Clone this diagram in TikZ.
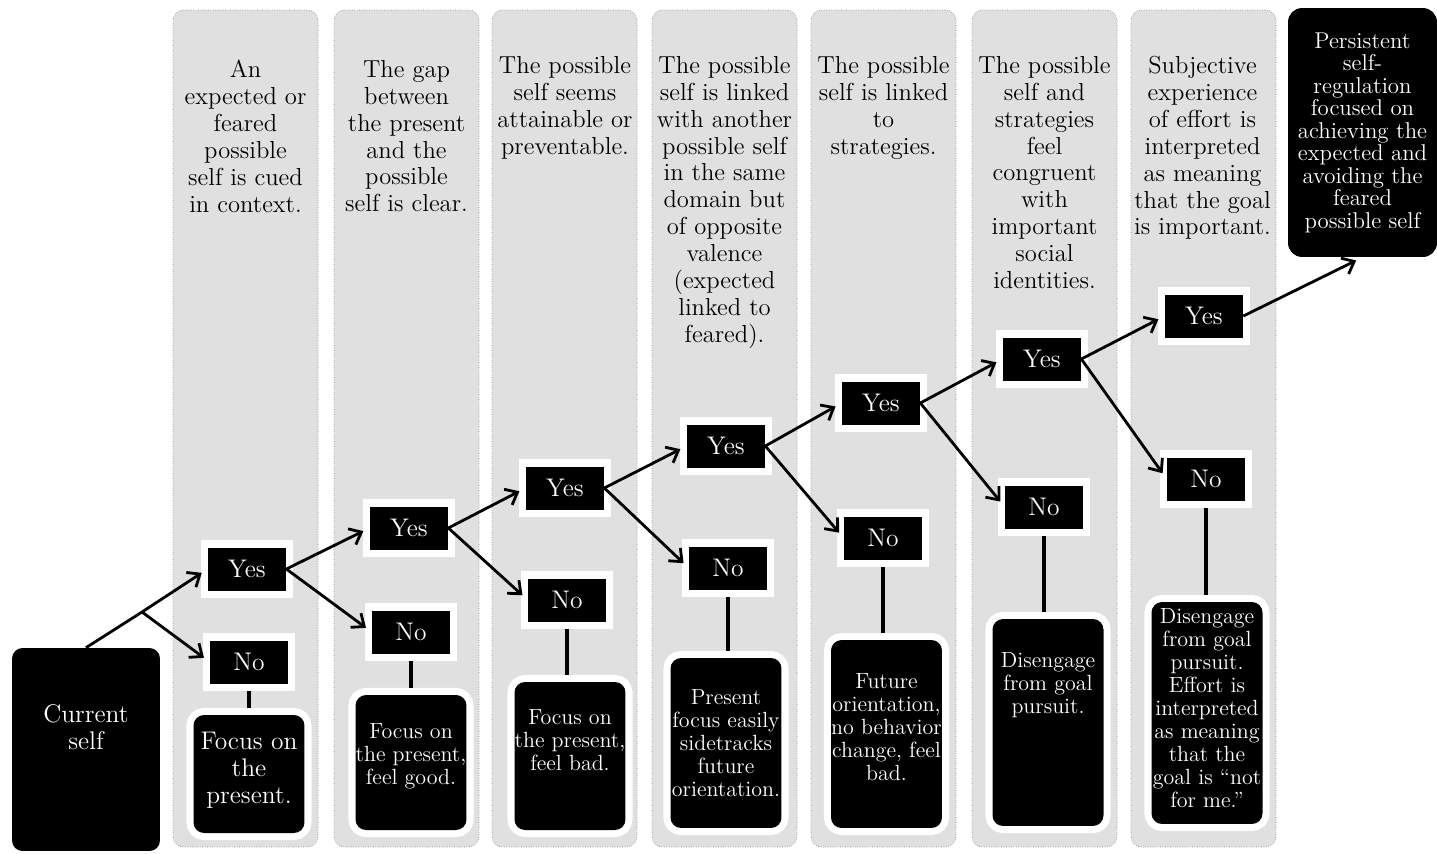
\documentclass[tikz,border=0pt]{standalone}
\usepackage{fontspec}
\usetikzlibrary{positioning, arrows.meta}

\tikzset{
  column/.style={rounded corners=6pt, fill=black!12, draw=black!45, densely dotted},
  question/.style={anchor=north, align=center, inner sep=0pt, font=\fontsize{14}{15.3}\selectfont},
  answer/.style={fill=black, text=white, minimum width=1.56cm, minimum height=0.86cm, inner sep=0pt,
    font=\fontsize{14.5}{16}\selectfont, preaction={draw=white, line width=8pt}},
  outcome/.style={fill=black, rounded corners=6pt, minimum width=2.22cm, inner sep=0pt,
    preaction={draw=white, line width=8pt}},
  outtext/.style={text=white, align=center, inner sep=0pt, font=\fontsize{12.5}{13.1}\selectfont},
  final/.style={fill=black, text=white, rounded corners=8pt, align=center, inner sep=0pt,
    minimum width=2.98cm, minimum height=4.98cm, font=\fontsize{13}{12.8}\selectfont},
  arrow/.style={-{Straight Barb[length=6pt,width=10pt]}, line width=1.6pt, shorten >=4pt},
  stem/.style={line width=2pt, shorten <=4pt, shorten >=4pt},
}

\begin{document}
\begin{tikzpicture}[x=0.02cm, y=-0.02cm]
    \useasboundingbox (0,0) rectangle (1437,853);

    % Columns
    \foreach \x in {173, 334, 492, 652, 811, 972, 1131}
      \draw[column] (\x,10) rectangle ++(145,837);

    % Questions
    \node[question] (q1) at (245.5,60) {An\\expected or\\feared\\possible\\self is cued\\in context.};
    \node[question] (q2) at (406.5,60) {The gap\\between\\the present\\and the\\possible\\self is clear.};
    \node[question] (q3) at (565,56) {The possible\\self seems\\attainable or\\preventable.};
    \node[question] (q4) at (724.5,56) {The possible\\self is linked\\with another\\possible self\\in the same\\domain but\\of opposite\\valence\\(expected\\linked to\\feared).};
    \node[question] (q5) at (883.5,56) {The possible\\self is linked\\to\\strategies.};
    \node[question] (q6) at (1044.5,56) {The possible\\self and\\strategies\\feel\\congruent\\with\\important\\social\\identities.};
    \node[question] (q7) at (1202.5,56) {Subjective\\experience\\of effort is\\interpreted\\as meaning\\that the goal\\is important.};

    % Final state
    \node[final] (goal) at (1362.5,132.5) {Persistent\\self-\\regulation\\focused on\\achieving the\\expected and\\avoiding the\\feared\\possible self};

    % Current self
    \node[outcome, minimum width=2.96cm, minimum height=4.06cm] (cur) at (86,749.5) {};
    \node[outtext, font=\fontsize{14.5}{15.4}\selectfont] (curtext) at (86,727) {Current\\self};

    % Yes and No answers
    \foreach \i/\x/\yy/\yn in {1/247/569/662, 2/409/528/632, 3/565/488/600, 4/726/446/568,
                              5/881/403/538, 6/1042/359/507, 7/1204/316/479} {
      \node[answer] (y\i) at (\x,\yy) {Yes};
      \node[answer] (n\i) at (\x+2,\yn) {No};
    }

    % Outcomes
    \node[outcome, minimum height=2.36cm] (o1) at (249,774) {};
    \node[outcome, minimum height=2.70cm] (o2) at (411,762.5) {};
    \node[outcome, minimum height=2.96cm] (o3) at (570,756) {};
    \node[outcome, minimum height=3.40cm] (o4) at (726,743) {};
    \node[outcome, minimum height=3.76cm] (o5) at (886.5,734) {};
    \node[outcome, minimum height=4.14cm] (o6) at (1048,722.5) {};
    \node[outcome, minimum height=4.44cm] (o7) at (1207,713) {};

    \node[outtext, font=\fontsize{14.5}{15.4}\selectfont] (t1) at (249,770) {Focus on\\the\\present.};
    \node[outtext] (t2) at (411,756) {Focus on\\the present,\\feel good.};
    \node[outtext] (t3) at (570,740) {Focus on\\the present,\\feel bad.};
    \node[outtext] (t4) at (726,743) {Present\\focus easily\\sidetracks\\future\\orientation.};
    \node[outtext] (t5) at (886.5,727) {Future\\orientation,\\no behavior\\change, feel\\bad.};
    \node[outtext] (t6) at (1048,685) {Disengage\\from goal\\pursuit.};
    \node[outtext] (t7) at (1207,708) {Disengage\\from goal\\pursuit.\\Effort is\\interpreted\\as meaning\\that the\\goal is ``not\\for me.''};

    % Connectors
    \coordinate (split) at (142,612);
    \draw[line width=1.6pt] (cur.north) -- (split);
    \draw[arrow] (split) -- (y1.west);
    \draw[arrow] (split) -- (n1.west);

    \foreach \a/\b in {1/2, 2/3, 3/4, 4/5, 5/6, 6/7} {
      \draw[arrow] (y\a.east) -- (y\b.west);
      \draw[arrow] (y\a.east) -- (n\b.west);
    }
    \foreach \i in {1,...,7}
      \draw[stem] (n\i.south) -- (n\i.south |- o\i.north);

    \draw[arrow] (y7.east) -- (goal.south);
\end{tikzpicture}
\end{document}
